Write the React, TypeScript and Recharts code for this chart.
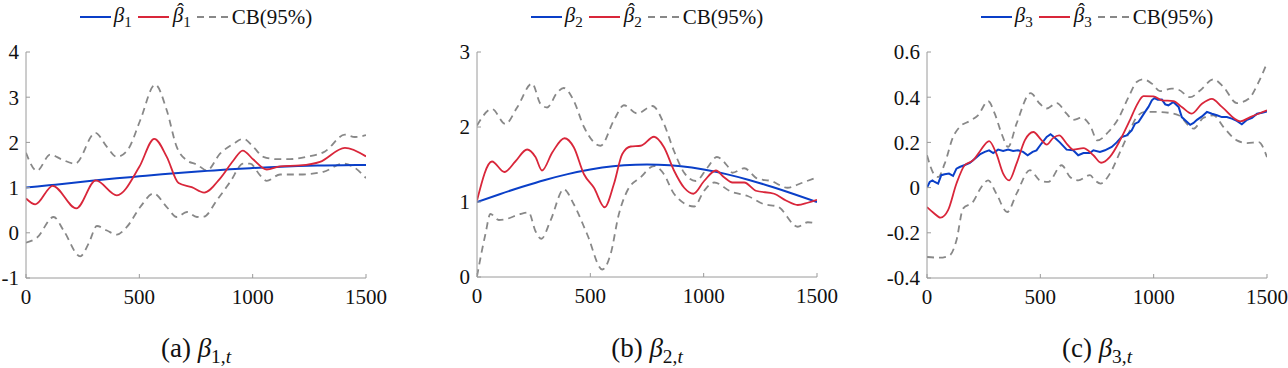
import React from 'react'
import { Line, LineChart, XAxis, YAxis } from 'recharts'

type Pair = [number, number]

const tTicks = [0, 500, 1000, 1500]

// ---- panel (a) ----
const b1True: Pair[] = [
  [0, 1.0], [100, 1.05], [200, 1.1], [300, 1.155], [400, 1.205], [500, 1.25], [600, 1.295],
  [700, 1.335], [800, 1.37], [900, 1.405], [1000, 1.433], [1100, 1.457], [1200, 1.476],
  [1300, 1.489], [1400, 1.497], [1500, 1.5],
]
const b1Hat: Pair[] = [
  [0, 0.76], [41, 0.63], [118, 1.04], [222, 0.54], [308, 1.16], [401, 0.83], [500, 1.46],
  [566, 2.08], [621, 1.68], [673, 1.1], [731, 1.01], [786, 0.89], [856, 1.2], [915, 1.6],
  [956, 1.82], [1003, 1.62], [1062, 1.4], [1121, 1.47], [1209, 1.49], [1297, 1.57],
  [1407, 1.88], [1500, 1.69],
]
const b1Upper: Pair[] = [
  [0, 1.77], [48, 1.37], [107, 1.73], [159, 1.62], [217, 1.53], [306, 2.21], [357, 1.9],
  [401, 1.68], [452, 1.86], [504, 2.49], [570, 3.28], [621, 2.71], [665, 1.9], [710, 1.6],
  [754, 1.51], [798, 1.38], [856, 1.75], [915, 1.97], [959, 2.08], [1003, 1.9], [1047, 1.68],
  [1106, 1.63], [1165, 1.63], [1238, 1.68], [1319, 1.8], [1407, 2.17], [1451, 2.12], [1500, 2.16],
]
const b1Lower: Pair[] = [
  [0, -0.22], [48, -0.11], [122, 0.35], [166, 0.05], [239, -0.52], [276, -0.24], [313, 0.15],
  [357, 0.05], [401, -0.04], [445, 0.13], [504, 0.57], [563, 0.87], [621, 0.57], [665, 0.35],
  [710, 0.46], [754, 0.35], [786, 0.36], [842, 0.72], [900, 1.12], [959, 1.53], [989, 1.53],
  [1033, 1.27], [1062, 1.15], [1121, 1.29], [1209, 1.29], [1312, 1.35], [1400, 1.53],
  [1444, 1.46], [1500, 1.21],
]

// ---- panel (b) ----
const b2True: Pair[] = [
  [0, 1.0], [100, 1.104], [200, 1.203], [300, 1.294], [400, 1.372], [500, 1.433], [600, 1.476],
  [700, 1.497], [750, 1.5], [800, 1.497], [900, 1.476], [1000, 1.433], [1100, 1.372],
  [1200, 1.294], [1300, 1.203], [1400, 1.104], [1500, 1.0],
]
const b2Hat: Pair[] = [
  [0, 1.02], [66, 1.54], [121, 1.4], [169, 1.54], [221, 1.7], [258, 1.6], [287, 1.42],
  [332, 1.66], [386, 1.85], [427, 1.73], [472, 1.37], [516, 1.19], [563, 0.93], [604, 1.24],
  [641, 1.64], [678, 1.74], [722, 1.75], [781, 1.87], [825, 1.73], [869, 1.42], [914, 1.19],
  [955, 1.11], [1002, 1.28], [1054, 1.42], [1090, 1.33], [1127, 1.26], [1179, 1.26],
  [1230, 1.15], [1311, 1.11], [1363, 1.02], [1415, 0.96], [1459, 0.99], [1500, 1.03],
]
const b2Upper: Pair[] = [
  [0, 2.02], [66, 2.24], [125, 2.04], [177, 2.26], [243, 2.58], [280, 2.31], [309, 2.26],
  [354, 2.46], [383, 2.52], [427, 2.35], [472, 2.0], [545, 1.75], [604, 2.09], [648, 2.29],
  [707, 2.18], [774, 2.28], [825, 2.04], [869, 1.68], [914, 1.39], [965, 1.28], [1017, 1.46],
  [1058, 1.6], [1105, 1.48], [1127, 1.39], [1179, 1.45], [1238, 1.31], [1297, 1.28],
  [1370, 1.19], [1429, 1.25], [1500, 1.33],
]
const b2Lower: Pair[] = [
  [0, 0.01], [37, 0.57], [59, 0.84], [96, 0.76], [125, 0.77], [192, 0.84], [228, 0.86],
  [258, 0.61], [284, 0.51], [324, 0.75], [383, 1.17], [427, 0.97], [486, 0.57], [553, 0.1],
  [589, 0.3], [626, 0.84], [663, 1.15], [722, 1.33], [781, 1.48], [825, 1.37], [869, 1.11],
  [958, 0.94], [1002, 1.15], [1046, 1.26], [1120, 1.14], [1194, 1.08], [1267, 0.97],
  [1326, 0.94], [1415, 0.67], [1459, 0.73], [1500, 0.71],
]

// ---- panel (c) ----
const b3True: Pair[] = [
  [0, 0.0], [12, 0.025], [24, 0.032], [34, 0.025], [49, 0.018], [63, 0.055], [78, 0.059],
  [97, 0.062], [115, 0.052], [130, 0.084], [144, 0.091], [167, 0.1], [189, 0.109], [211, 0.128],
  [233, 0.147], [255, 0.158], [274, 0.165], [292, 0.153], [314, 0.168], [336, 0.162],
  [358, 0.168], [380, 0.162], [402, 0.165], [424, 0.158], [444, 0.143], [466, 0.158],
  [483, 0.165], [505, 0.195], [528, 0.224], [545, 0.236], [564, 0.221], [586, 0.2],
  [616, 0.168], [645, 0.165], [667, 0.143], [690, 0.153], [719, 0.153], [734, 0.165],
  [763, 0.158], [785, 0.165], [815, 0.18], [837, 0.2], [859, 0.224], [881, 0.231], [903, 0.253],
  [918, 0.283], [933, 0.29], [947, 0.312], [962, 0.335], [977, 0.357], [992, 0.386],
  [1003, 0.396], [1018, 0.389], [1036, 0.39], [1051, 0.368], [1065, 0.364], [1087, 0.379],
  [1110, 0.357], [1124, 0.312], [1139, 0.298], [1161, 0.278], [1176, 0.286], [1191, 0.3],
  [1213, 0.315], [1235, 0.335], [1257, 0.327], [1279, 0.32], [1301, 0.312], [1323, 0.312],
  [1345, 0.305], [1367, 0.295], [1389, 0.28], [1412, 0.3], [1434, 0.309], [1456, 0.327],
  [1478, 0.331], [1500, 0.337],
]
const b3Hat: Pair[] = [
  [0, -0.086], [27, -0.11], [60, -0.133], [93, -0.1], [130, 0.018], [167, 0.1], [203, 0.12],
  [233, 0.16], [274, 0.206], [306, 0.15], [336, 0.062], [362, 0.032], [395, 0.106],
  [432, 0.21], [469, 0.246], [505, 0.21], [528, 0.19], [557, 0.22], [583, 0.231], [616, 0.195],
  [645, 0.168], [690, 0.175], [734, 0.143], [768, 0.11], [807, 0.136], [852, 0.21], [896, 0.3],
  [925, 0.364], [955, 0.405], [999, 0.404], [1036, 0.386], [1087, 0.383], [1124, 0.357],
  [1168, 0.327], [1213, 0.371], [1257, 0.393], [1301, 0.357], [1382, 0.293], [1426, 0.312],
  [1500, 0.342],
]
const b3Upper: Pair[] = [
  [0, 0.143], [29, 0.062], [49, 0.047], [78, 0.106], [115, 0.224], [144, 0.268], [189, 0.295],
  [225, 0.32], [270, 0.382], [299, 0.327], [329, 0.239], [358, 0.18], [395, 0.283],
  [457, 0.418], [498, 0.371], [528, 0.35], [572, 0.374], [616, 0.327], [645, 0.3], [682, 0.309],
  [719, 0.276], [752, 0.209], [800, 0.246], [844, 0.305], [889, 0.4], [925, 0.467],
  [955, 0.479], [992, 0.46], [1028, 0.427], [1080, 0.438], [1110, 0.433], [1161, 0.4],
  [1205, 0.43], [1264, 0.479], [1308, 0.445], [1367, 0.374], [1419, 0.393], [1463, 0.467],
  [1500, 0.551],
]
const b3Lower: Pair[] = [
  [0, -0.307], [56, -0.31], [100, -0.3], [130, -0.233], [159, -0.093], [203, -0.063],
  [240, 0.003], [270, 0.032], [306, -0.027], [354, -0.108], [395, -0.027], [454, 0.077],
  [498, 0.032], [535, 0.025], [594, 0.099], [631, 0.047], [667, 0.032], [719, 0.055],
  [741, 0.032], [766, 0.018], [807, 0.062], [852, 0.158], [889, 0.239], [925, 0.312],
  [962, 0.335], [1014, 0.335], [1073, 0.33], [1110, 0.32], [1176, 0.261], [1220, 0.309],
  [1264, 0.32], [1308, 0.268], [1367, 0.209], [1412, 0.197], [1463, 0.201], [1500, 0.135],
]

const BLUE = '#0a3fc8'
const RED = '#d9263a'
const GRAY = '#888888'
const AXIS = '#9a9a9a'
const FONT = 'Liberation Serif'

const toPts = (pairs: Pair[]) => pairs.map(([t, v]) => ({ t, v }))

interface PanelProps {
  left: number
  width: number
  plotLeft: number
  plotRight: number
  plotBottom: number
  yDomain: [number, number]
  yTicks: number[]
  truth: Pair[]
  truthType: 'monotone' | 'linear'
  hat: Pair[]
  upper: Pair[]
  lower: Pair[]
  idx: string
  letter: string
}

// italic beta with an optional hat stacked over it and a subscript
function Beta({ idx, hat, sub }: { idx: string; hat?: boolean; sub?: React.ReactNode }) {
  return (
    <span style={{ whiteSpace: 'nowrap' }}>
      <span style={{ position: 'relative', display: 'inline-block' }}>
        <i>β</i>
        {hat && (
          <span
            style={{
              position: 'absolute',
              left: '0.2em',
              top: '-0.12em',
              lineHeight: 1,
            }}
          >
            ˆ
          </span>
        )}
      </span>
      <sub style={{ fontSize: '0.72em', verticalAlign: '-0.3em' }}>{sub ?? idx}</sub>
    </span>
  )
}

function LegendSample({ color, dashed }: { color: string; dashed?: boolean }) {
  return (
    <svg width={31} height={4} style={{ display: 'block' }}>
      <line
        x1={0}
        y1={2}
        x2={31}
        y2={2}
        stroke={color}
        strokeWidth={2}
        strokeDasharray={dashed ? '7 5' : undefined}
      />
    </svg>
  )
}

function Panel(p: PanelProps) {
  const chartH = p.plotBottom + 32
  const center = (p.plotLeft + p.plotRight) / 2
  const fmt = (v: number) => String(Math.round(v * 10) / 10)
  return (
    <div style={{ position: 'absolute', left: p.left, top: 0, width: p.width, height: 368 }}>
      <div
        style={{
          position: 'absolute',
          top: 4,
          left: center - 160,
          width: 320,
          display: 'flex',
          justifyContent: 'center',
          alignItems: 'center',
          fontFamily: FONT,
          fontSize: 21,
          color: '#111',
          height: 26,
        }}
      >
        <LegendSample color={BLUE} />
        <span style={{ margin: '0 6px 0 3px' }}>
          <Beta idx={p.idx} />
        </span>
        <LegendSample color={RED} />
        <span style={{ margin: '0 6px 0 4px' }}>
          <Beta idx={p.idx} hat />
        </span>
        <LegendSample color={GRAY} dashed />
        <span style={{ marginLeft: 4 }}>CB(95%)</span>
      </div>
      <LineChart
        width={p.width}
        height={chartH}
        margin={{ top: 52, right: p.width - p.plotRight, bottom: 0, left: 0 }}
      >
        <XAxis
          dataKey="t"
          type="number"
          domain={[0, 1500]}
          ticks={tTicks}
          height={32}
          stroke={AXIS}
          tickSize={-4}
          tickMargin={15}
          tick={{ fill: '#111', fontSize: 21, fontFamily: FONT }}
          interval={0}
          allowDataOverflow
        />
        <YAxis
          type="number"
          domain={p.yDomain}
          ticks={p.yTicks}
          width={p.plotLeft}
          stroke={AXIS}
          tickSize={-4}
          tickMargin={11}
          tickFormatter={fmt}
          tick={{ fill: '#111', fontSize: 21, fontFamily: FONT }}
          interval={0}
          allowDataOverflow
        />
        <Line
          data={toPts(p.upper)}
          dataKey="v"
          type="monotone"
          stroke={GRAY}
          strokeWidth={1.8}
          strokeDasharray="7 5"
          dot={false}
          isAnimationActive={false}
        />
        <Line
          data={toPts(p.lower)}
          dataKey="v"
          type="monotone"
          stroke={GRAY}
          strokeWidth={1.8}
          strokeDasharray="7 5"
          dot={false}
          isAnimationActive={false}
        />
        <Line
          data={toPts(p.truth)}
          dataKey="v"
          type={p.truthType}
          stroke={BLUE}
          strokeWidth={2}
          dot={false}
          isAnimationActive={false}
        />
        <Line
          data={toPts(p.hat)}
          dataKey="v"
          type="monotone"
          stroke={RED}
          strokeWidth={1.8}
          dot={false}
          isAnimationActive={false}
        />
      </LineChart>
      <div
        style={{
          position: 'absolute',
          top: 333,
          left: center - 110,
          width: 220,
          textAlign: 'center',
          fontFamily: FONT,
          fontSize: 27,
          color: '#111',
        }}
      >
        ({p.letter}){'\u00a0'}
        <Beta
          idx={p.idx}
          sub={
            <>
              {p.idx},<i>t</i>
            </>
          }
        />
      </div>
    </div>
  )
}

export default function App() {
  return (
    <div style={{ position: 'absolute', left: 0, top: 0, width: 1288, height: 368, background: '#fff' }}>
      <Panel
        left={0}
        width={430}
        plotLeft={26}
        plotRight={366}
        plotBottom={278}
        yDomain={[-1, 4]}
        yTicks={[-1, 0, 1, 2, 3, 4]}
        truth={b1True}
        truthType="monotone"
        hat={b1Hat}
        upper={b1Upper}
        lower={b1Lower}
        idx="1"
        letter="a"
      />
      <Panel
        left={430}
        width={430}
        plotLeft={47}
        plotRight={387}
        plotBottom={277}
        yDomain={[0, 3]}
        yTicks={[0, 1, 2, 3]}
        truth={b2True}
        truthType="monotone"
        hat={b2Hat}
        upper={b2Upper}
        lower={b2Lower}
        idx="2"
        letter="b"
      />
      <Panel
        left={860}
        width={428}
        plotLeft={67}
        plotRight={407}
        plotBottom={278}
        yDomain={[-0.4, 0.6]}
        yTicks={[-0.4, -0.2, 0, 0.2, 0.4, 0.6]}
        truth={b3True}
        truthType="linear"
        hat={b3Hat}
        upper={b3Upper}
        lower={b3Lower}
        idx="3"
        letter="c"
      />
    </div>
  )
}
